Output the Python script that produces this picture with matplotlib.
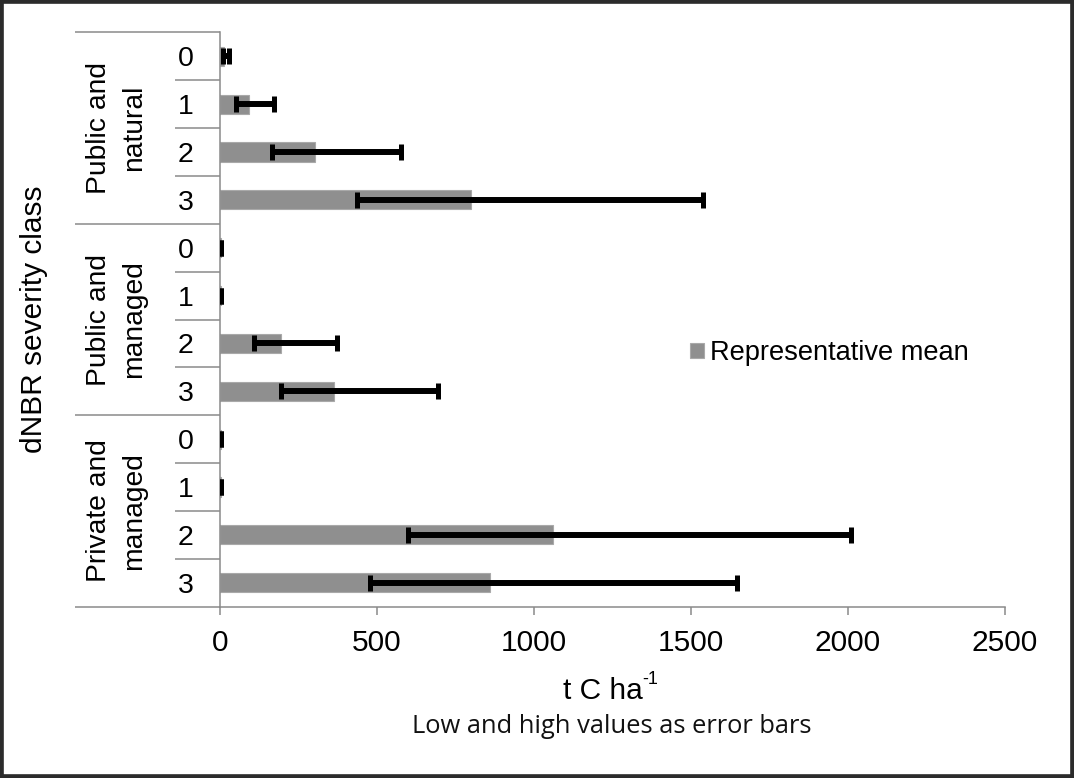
import matplotlib
matplotlib.use("Agg")
import matplotlib.pyplot as plt
import matplotlib.transforms as mtransforms
from matplotlib.patches import Rectangle
import numpy as np

plt.rcParams['font.family'] = ['Liberation Sans', 'DejaVu Sans']

# ---- data ----
groups = ["Public and\nnatural", "Public and\nmanaged", "Private and\nmanaged"]
classes = ["0", "1", "2", "3"]
mean_pub_nat = [13, 92, 302, 798]
low_pub_nat = [8, 51, 166, 437]
high_pub_nat = [29, 171, 576, 1538]
mean_pub_man = [3, 3, 193, 363]
low_pub_man = [2, 2, 107, 194]
high_pub_man = [4, 4, 373, 694]
mean_priv_man = [3, 3, 1061, 860]
low_priv_man = [2, 2, 598, 478]
high_priv_man = [4, 4, 2009, 1648]
xticks = [0, 500, 1000, 1500, 2000, 2500]

means = np.array(mean_pub_nat + mean_pub_man + mean_priv_man, dtype=float)
lows = np.array(low_pub_nat + low_pub_man + low_priv_man, dtype=float)
highs = np.array(high_pub_nat + high_pub_man + high_priv_man, dtype=float)
ylabels = classes * len(groups)
ypos = np.arange(len(means))

W, H = 1074, 778
fig = plt.figure(figsize=(W / 100, H / 100), dpi=100)
ax = fig.add_axes([220 / W, 1 - 606.7 / H, 785 / W, (606.7 - 32.3) / H])

gray = '#8a8a8a'
ax.barh(ypos, means, height=0.4, color='#8f8f8f', edgecolor='#a9a9a9',
        linewidth=0.8, label='Representative mean', zorder=2)
ax.errorbar(means, ypos, xerr=[means - lows, highs - means], fmt='none',
            ecolor='black', elinewidth=4.3, capsize=5.8, capthick=3.6, zorder=3)

ax.set_xlim(0, 2500)
ax.set_ylim(len(means) - 0.5, -0.5)
ax.set_xticks(xticks)
ax.set_xticklabels([str(t) for t in xticks])
ax.set_yticks(ypos)
ax.set_yticklabels(ylabels)
ax.tick_params(axis='x', direction='out', length=5.8, width=1.1, color=gray,
               labelsize=21.5, pad=10, labelcolor='black')
ax.tick_params(axis='y', length=0, labelsize=20.5, pad=19, labelcolor='black')
for s in ['top', 'right']:
    ax.spines[s].set_visible(False)
for s in ['left', 'bottom']:
    ax.spines[s].set_color(gray)
    ax.spines[s].set_linewidth(1.1)

# separators
trans = mtransforms.blended_transform_factory(ax.transAxes, ax.transData)
x_group = (75 - 220) / 785
x_inner = (175 - 220) / 785
n = len(classes)
for k in range(len(means) + 1):
    yb = k - 0.5
    x0 = x_group if k % n == 0 else x_inner
    ax.plot([x0, 0], [yb, yb], color=gray, lw=1.1, transform=trans,
            clip_on=False, solid_capstyle='butt')

# group labels
for gi, g in enumerate(groups):
    yc = gi * n + (n - 1) / 2
    ax.text((117 - 220) / 785, yc, g, rotation=90, ha='center', va='center',
            fontsize=20.3, linespacing=1.45, transform=trans, multialignment='center')

ax.set_ylabel('dNBR severity class', fontsize=21.5, va='center', ha='center')
ax.yaxis.set_label_coords((34 - 220) / 785, 0.5)

xl = ax.set_xlabel('t C ha', fontsize=21.5, va='baseline')
ax.xaxis.set_label_coords((603 - 220) / 785, (606.7 - 699.3) / 574.4)
ax.annotate('-1', xy=(1, 0.62), xycoords=xl, xytext=(-0.8, 0),
            textcoords='offset points', fontsize=13, ha='left', va='bottom')

fig.text(611.7 / W, 1 - 732.7 / H, 'Low and high values as error bars',
         ha='center', va='baseline', fontsize=18.4, color='#111111',
         family=['Open Sans', 'DejaVu Sans'])

ax.legend(loc='center left', bbox_to_anchor=(690 / W, 1 - 353 / H),
          bbox_transform=fig.transFigure, frameon=False, fontsize=19.6,
          handlelength=0.5, handleheight=0.5, handletextpad=0.22,
          borderpad=0, borderaxespad=0)

fig.patches.append(Rectangle((0, 0), 1, 1, transform=fig.transFigure, fill=False,
                             edgecolor='#2b2b2b', linewidth=5.5, zorder=10))

fig.savefig('out.png', dpi=100)
